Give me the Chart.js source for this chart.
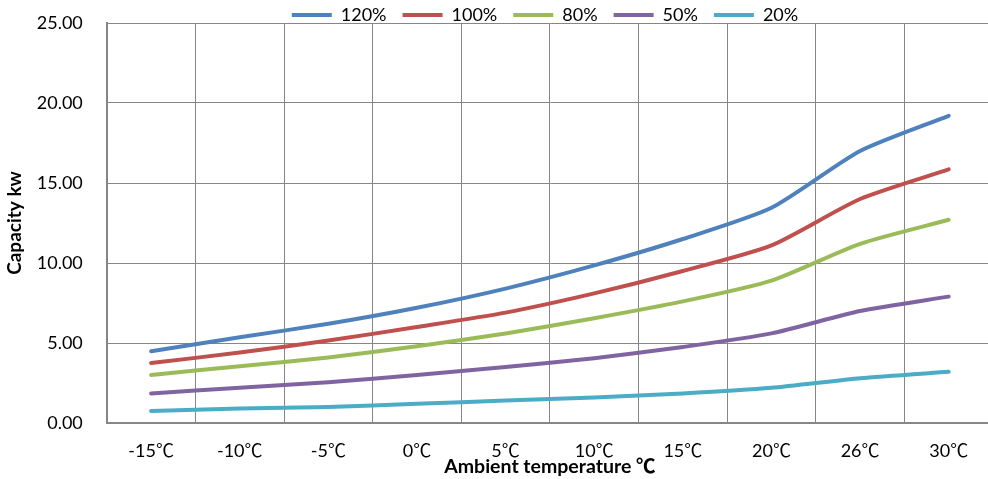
<!DOCTYPE html>
<html><head><meta charset="utf-8">
<script src="https://cdn.jsdelivr.net/npm/chart.js@4"></script>
<style>html,body{margin:0;padding:0;background:#fff;overflow:hidden}#wrap{width:988px;height:479px;overflow:hidden}</style>
</head><body><div id="wrap"><canvas id="c" width="1000" height="479"></canvas></div>
<script>
const categories = ["-15℃","-10℃","-5℃","0℃","5℃","10℃","15℃","20℃","26℃","30℃"];
const s120 = [4.49,5.36,6.2,7.2,8.4,9.85,11.5,13.45,17.0,19.2];
const s100 = [3.75,4.4,5.15,6.0,6.9,8.1,9.5,11.1,14.0,15.85];
const s80  = [3.0,3.55,4.1,4.8,5.6,6.55,7.6,8.9,11.2,12.7];
const s50  = [1.85,2.2,2.55,3.0,3.5,4.05,4.75,5.6,7.0,7.9];
const s20  = [0.75,0.9,1.0,1.2,1.4,1.6,1.85,2.2,2.8,3.2];
const seriesNames = ["120%","100%","80%","50%","20%"];
const colors = ["#4F81BD","#C0504D","#9BBB59","#8064A2","#4BACC6"];
const allSeries = [s120,s100,s80,s50,s20];
const FONT = "Lato, 'Noto Sans CJK SC', sans-serif";
const legendShift = {
  id: 'legendShift',
  afterUpdate(chart) {
    const L = chart.legend;
    if (L) {
      const dy = -10 - L.top;
      L.top += dy; L.bottom += dy;
      L.left += 47; L.right += 47;
    }
  }
};
new Chart(document.getElementById('c'), {
  type: 'line',
  data: {
    labels: categories,
    datasets: allSeries.map((d,i)=>({label: seriesNames[i], data: d, borderColor: colors[i], backgroundColor: colors[i],
      borderWidth: 4, pointRadius: 0, tension: 0.22, borderCapStyle: 'round', fill: false}))
  },
  plugins: [legendShift],
  options: {
    responsive: false, animation: false,
    layout: {padding: {left: 3, right: 7, top: -42, bottom: 1}},
    plugins: {
      tooltip: {enabled: false},
      legend: {position: 'top', align: 'center',
        labels: {font: {family: FONT, size: 18}, color: '#000', boxWidth: 40, boxHeight: 4, padding: 16,
          generateLabels: (chart)=>chart.data.datasets.map((ds,i)=>({text: ds.label, fillStyle: ds.borderColor, strokeStyle: ds.borderColor, lineWidth: 0, datasetIndex: i}))}
      }
    },
    scales: {
      x: {offset: true,
        grid: {offset: true, color: '#868686', lineWidth: 1, drawTicks: false},
        border: {color: '#868686', width: 2},
        ticks: {font: {family: FONT, size: 18}, color: '#000', padding: 17, maxRotation: 0, autoSkip: false},
        title: {display: true, text: 'Ambient temperature ℃', font: {family: FONT, size: 19.5, weight: 'bold'}, color: '#000', padding: {top: -24, bottom: 0}}
      },
      y: {min: 0, max: 25,
        afterFit: (scale) => { scale.paddingTop = 23; },
        grid: {color: '#868686', lineWidth: 1, drawTicks: false},
        border: {color: '#868686', width: 2},
        ticks: {stepSize: 5, font: {family: FONT, size: 18}, color: '#000', padding: 24, callback: v=>v.toFixed(2)},
        title: {display: true, text: 'Capacity kw', font: {family: FONT, size: 19, weight: 'bold'}, color: '#000', padding: {top: 0, bottom: -13}}
      }
    }
  }
});
</script></body></html>
